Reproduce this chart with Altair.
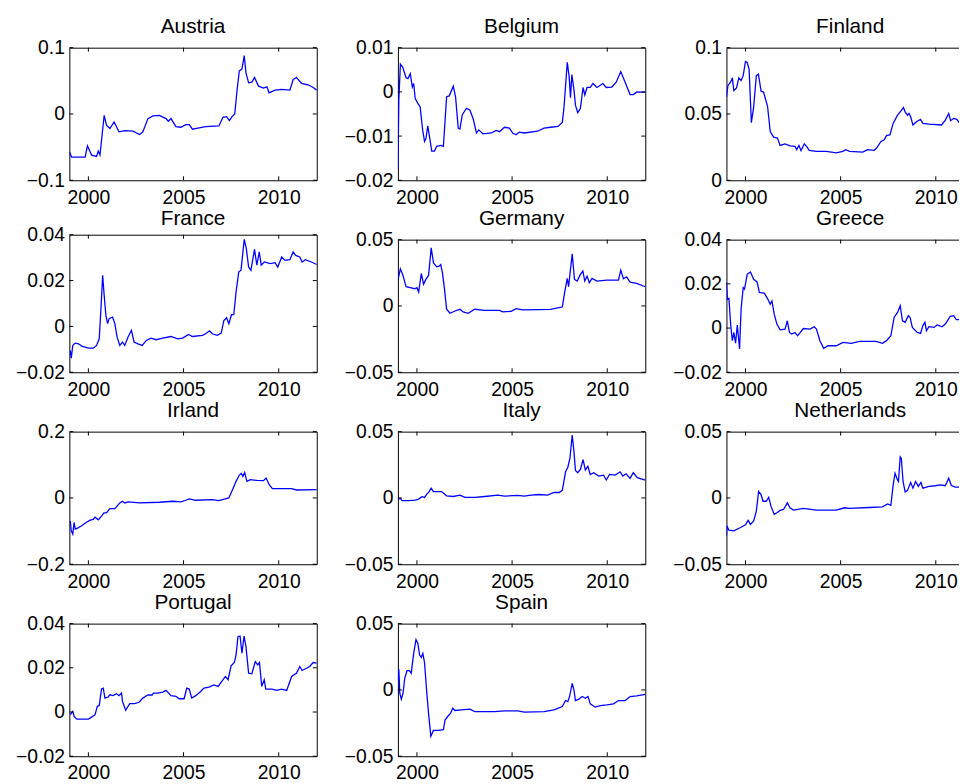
import altair as alt
import pandas as pd

FONT = "Liberation Sans"
BLUE = "#0000ff"
X_TICKS = [2000, 2005, 2010]

austria = [(1999.00,-0.057),(1999.12,-0.065),(1999.83,-0.065),(1999.95,-0.048),(2000.17,-0.062),(2000.43,-0.064),(2000.52,-0.056),(2000.61,-0.062),(2000.69,-0.040),(2000.83,-0.002),(2000.95,-0.017),(2001.13,-0.022),(2001.35,-0.012),(2001.61,-0.027),(2001.91,-0.025),(2002.34,-0.026),(2002.69,-0.031),(2002.86,-0.027),(2003.13,-0.007),(2003.39,-0.003),(2003.73,-0.002),(2004.08,-0.007),(2004.20,-0.011),(2004.34,-0.007),(2004.60,-0.019),(2004.86,-0.020),(2005.12,-0.016),(2005.30,-0.016),(2005.47,-0.023),(2005.82,-0.021),(2006.16,-0.019),(2006.86,-0.018),(2007.07,-0.005),(2007.26,-0.004),(2007.41,-0.010),(2007.55,-0.004),(2007.69,0.000),(2007.81,0.035),(2007.93,0.065),(2008.07,0.068),(2008.19,0.088),(2008.28,0.062),(2008.42,0.047),(2008.59,0.048),(2008.73,0.055),(2008.94,0.042),(2009.20,0.039),(2009.38,0.041),(2009.50,0.032),(2009.81,0.036),(2010.16,0.037),(2010.59,0.036),(2010.76,0.052),(2010.94,0.055),(2011.20,0.046),(2011.55,0.044),(2011.81,0.040),(2012.00,0.036)]

belgium = [(1999.00,-0.0175),(1999.05,-0.0019),(1999.13,0.0063),(1999.25,0.0056),(1999.43,0.0032),(1999.53,0.0030),(1999.65,0.0041),(1999.76,0.0011),(1999.83,0.0019),(1999.91,-0.0015),(2000.05,-0.0026),(2000.17,-0.0034),(2000.30,-0.0086),(2000.40,-0.0112),(2000.47,-0.0106),(2000.57,-0.0077),(2000.66,-0.0101),(2000.78,-0.0134),(2000.92,-0.0134),(2001.04,-0.0123),(2001.27,-0.0121),(2001.39,-0.0123),(2001.56,-0.0011),(2001.70,-0.0009),(2001.91,0.0013),(2002.03,-0.0011),(2002.17,-0.0082),(2002.26,-0.0084),(2002.38,-0.0052),(2002.60,-0.0037),(2002.78,-0.0041),(2002.95,-0.0060),(2003.13,-0.0093),(2003.25,-0.0086),(2003.47,-0.0095),(2003.91,-0.0093),(2004.17,-0.0087),(2004.34,-0.0090),(2004.60,-0.0080),(2004.86,-0.0082),(2005.03,-0.0093),(2005.21,-0.0097),(2005.38,-0.0091),(2005.64,-0.0093),(2006.34,-0.0089),(2006.68,-0.0082),(2007.03,-0.0080),(2007.41,-0.0078),(2007.64,-0.0069),(2007.73,-0.0034),(2007.90,0.0067),(2008.00,0.0034),(2008.07,-0.0013),(2008.14,0.0039),(2008.25,0.0005),(2008.33,-0.0030),(2008.45,-0.0047),(2008.59,-0.0037),(2008.73,0.0010),(2008.82,-0.0007),(2008.94,0.0010),(2009.11,0.0010),(2009.25,0.0019),(2009.46,0.0010),(2009.77,0.0019),(2009.95,0.0010),(2010.24,0.0011),(2010.47,0.0022),(2010.71,0.0046),(2010.94,0.0022),(2011.20,-0.0006),(2011.37,-0.0006),(2011.55,0.0000),(2012.00,-0.0001)]

finland = [(1999.00,0.0628),(1999.08,0.0715),(1999.22,0.0740),(1999.31,0.0772),(1999.39,0.0677),(1999.53,0.0697),(1999.65,0.0772),(1999.77,0.0752),(1999.88,0.0789),(2000.00,0.0896),(2000.09,0.0888),(2000.19,0.0839),(2000.31,0.0434),(2000.43,0.0553),(2000.57,0.0789),(2000.68,0.0801),(2000.82,0.0672),(2000.95,0.0665),(2001.16,0.0558),(2001.30,0.0367),(2001.48,0.0325),(2001.68,0.0318),(2001.82,0.0263),(2002.08,0.0275),(2002.34,0.0260),(2002.60,0.0256),(2002.69,0.0231),(2002.81,0.0263),(2002.92,0.0223),(2003.09,0.0275),(2003.21,0.0256),(2003.35,0.0226),(2003.73,0.0218),(2004.25,0.0218),(2004.77,0.0206),(2005.12,0.0218),(2005.26,0.0231),(2005.47,0.0218),(2006.16,0.0213),(2006.42,0.0231),(2006.77,0.0226),(2006.89,0.0243),(2007.12,0.0293),(2007.29,0.0305),(2007.41,0.0337),(2007.59,0.0342),(2007.76,0.0429),(2007.99,0.0491),(2008.16,0.0521),(2008.30,0.0548),(2008.39,0.0516),(2008.51,0.0491),(2008.59,0.0504),(2008.68,0.0479),(2008.80,0.0417),(2008.98,0.0442),(2009.20,0.0459),(2009.32,0.0429),(2009.64,0.0424),(2010.30,0.0417),(2010.50,0.0454),(2010.68,0.0504),(2010.78,0.0449),(2010.94,0.0467),(2011.11,0.0459),(2011.28,0.0424),(2011.60,0.0410),(2012.00,0.0400)]

france = [(1999.05,-0.0105),(1999.10,-0.0138),(1999.18,-0.0083),(1999.31,-0.0073),(1999.48,-0.0076),(1999.65,-0.0086),(1999.83,-0.0090),(2000.00,-0.0095),(2000.26,-0.0095),(2000.43,-0.0083),(2000.57,-0.0054),(2000.66,0.0077),(2000.75,0.0223),(2000.83,0.0135),(2000.92,0.0048),(2001.01,0.0012),(2001.09,0.0034),(2001.27,0.0041),(2001.39,0.0012),(2001.51,-0.0047),(2001.65,-0.0083),(2001.79,-0.0068),(2001.91,-0.0083),(2002.08,-0.0047),(2002.26,-0.0017),(2002.40,-0.0068),(2002.60,-0.0076),(2002.83,-0.0083),(2003.04,-0.0061),(2003.30,-0.0051),(2003.56,-0.0058),(2003.91,-0.0051),(2004.34,-0.0044),(2004.69,-0.0054),(2004.95,-0.0051),(2005.26,-0.0035),(2005.47,-0.0044),(2005.99,-0.0039),(2006.16,-0.0032),(2006.37,-0.0019),(2006.51,-0.0032),(2006.77,-0.0039),(2006.98,-0.0029),(2007.12,0.0026),(2007.26,0.0038),(2007.38,0.0012),(2007.52,0.0051),(2007.64,0.0051),(2007.76,0.0150),(2007.90,0.0237),(2008.02,0.0245),(2008.19,0.0380),(2008.30,0.0339),(2008.42,0.0259),(2008.54,0.0245),(2008.73,0.0336),(2008.85,0.0267),(2008.98,0.0325),(2009.08,0.0267),(2009.25,0.0281),(2009.55,0.0274),(2009.81,0.0278),(2009.95,0.0259),(2010.16,0.0303),(2010.33,0.0288),(2010.59,0.0291),(2010.76,0.0325),(2010.89,0.0310),(2011.11,0.0303),(2011.23,0.0281),(2011.40,0.0291),(2011.72,0.0281),(2012.00,0.0270)]

germany = [(1999.01,0.0200),(1999.13,0.0280),(1999.25,0.0238),(1999.43,0.0145),(1999.65,0.0138),(1999.88,0.0130),(2000.00,0.0138),(2000.09,0.0105),(2000.23,0.0245),(2000.35,0.0163),(2000.47,0.0200),(2000.61,0.0230),(2000.75,0.0438),(2000.87,0.0325),(2001.04,0.0295),(2001.16,0.0300),(2001.25,0.0313),(2001.34,0.0250),(2001.44,0.0138),(2001.56,-0.0025),(2001.74,-0.0055),(2002.00,-0.0038),(2002.26,-0.0025),(2002.43,-0.0045),(2002.69,-0.0055),(2003.04,-0.0025),(2003.56,-0.0033),(2004.34,-0.0033),(2004.51,-0.0045),(2004.95,-0.0040),(2005.21,-0.0020),(2005.56,-0.0030),(2007.03,-0.0025),(2007.38,-0.0015),(2007.64,-0.0008),(2007.76,0.0100),(2007.90,0.0208),(2007.97,0.0145),(2008.04,0.0238),(2008.16,0.0393),(2008.28,0.0200),(2008.42,0.0188),(2008.59,0.0238),(2008.72,0.0263),(2008.82,0.0188),(2008.94,0.0225),(2009.06,0.0175),(2009.20,0.0208),(2009.46,0.0188),(2009.98,0.0195),(2010.59,0.0195),(2010.71,0.0270),(2010.85,0.0205),(2011.02,0.0220),(2011.20,0.0180),(2011.55,0.0170),(2012.00,0.0145)]

greece = [(1999.00,0.0206),(1999.05,0.0130),(1999.13,0.0134),(1999.22,0.0018),(1999.31,-0.0057),(1999.39,-0.0020),(1999.48,-0.0068),(1999.57,0.0014),(1999.69,-0.0095),(1999.77,0.0086),(1999.88,0.0183),(1999.95,0.0176),(2000.09,0.0243),(2000.26,0.0254),(2000.43,0.0221),(2000.61,0.0209),(2000.73,0.0161),(2000.99,0.0158),(2001.18,0.0130),(2001.30,0.0108),(2001.39,0.0123),(2001.51,0.0063),(2001.65,0.0018),(2001.82,-0.0008),(2002.08,-0.0005),(2002.20,0.0033),(2002.31,-0.0020),(2002.43,-0.0027),(2002.60,-0.0020),(2002.74,-0.0035),(2003.04,-0.0002),(2003.39,-0.0005),(2003.61,0.0006),(2003.73,-0.0005),(2003.91,-0.0057),(2004.11,-0.0092),(2004.34,-0.0080),(2004.77,-0.0080),(2005.12,-0.0065),(2005.56,-0.0069),(2005.99,-0.0060),(2006.86,-0.0060),(2007.20,-0.0069),(2007.41,-0.0057),(2007.64,-0.0035),(2007.81,0.0048),(2007.99,0.0071),(2008.13,0.0101),(2008.25,0.0033),(2008.39,0.0026),(2008.56,0.0056),(2008.65,0.0048),(2008.77,0.0003),(2009.03,-0.0020),(2009.20,-0.0024),(2009.32,0.0011),(2009.43,0.0026),(2009.51,-0.0012),(2009.64,0.0006),(2009.90,0.0003),(2010.07,0.0014),(2010.33,0.0006),(2010.50,0.0018),(2010.76,0.0053),(2010.94,0.0056),(2011.08,0.0038),(2011.28,0.0038),(2011.39,0.0029),(2011.70,0.0030),(2012.00,0.0025)]

irland = [(1999.05,-0.0695),(1999.10,-0.0990),(1999.18,-0.1090),(1999.25,-0.0740),(1999.31,-0.0940),(1999.43,-0.0910),(1999.65,-0.0840),(1999.88,-0.0740),(2000.09,-0.0670),(2000.26,-0.0650),(2000.35,-0.0580),(2000.52,-0.0660),(2000.69,-0.0550),(2000.82,-0.0450),(2000.95,-0.0450),(2001.13,-0.0320),(2001.39,-0.0320),(2001.65,-0.0150),(2001.79,-0.0100),(2001.91,-0.0150),(2002.08,-0.0120),(2002.69,-0.0150),(2003.73,-0.0130),(2004.43,-0.0100),(2004.86,-0.0120),(2005.12,-0.0070),(2005.30,-0.0030),(2005.64,-0.0070),(2006.51,-0.0050),(2006.86,-0.0080),(2007.38,0.0000),(2007.55,0.0220),(2007.76,0.0500),(2007.93,0.0690),(2008.04,0.0740),(2008.12,0.0650),(2008.21,0.0770),(2008.33,0.0500),(2008.51,0.0550),(2008.85,0.0530),(2009.20,0.0520),(2009.34,0.0600),(2009.50,0.0400),(2009.67,0.0280),(2010.33,0.0280),(2010.68,0.0280),(2010.94,0.0240),(2012.00,0.0250)]

italy = [(1999.01,-0.0009),(1999.13,-0.0004),(1999.22,-0.0021),(1999.57,-0.0021),(1999.91,-0.0016),(2000.09,-0.0009),(2000.26,0.0009),(2000.40,0.0004),(2000.52,0.0029),(2000.64,0.0048),(2000.75,0.0073),(2000.87,0.0048),(2001.04,0.0048),(2001.30,0.0048),(2001.56,0.0016),(2001.91,0.0011),(2002.26,0.0021),(2002.52,0.0004),(2003.04,0.0004),(2003.56,0.0011),(2004.25,0.0021),(2004.60,0.0014),(2005.30,0.0019),(2005.64,0.0014),(2005.99,0.0021),(2006.42,0.0026),(2006.86,0.0021),(2007.20,0.0041),(2007.47,0.0041),(2007.64,0.0058),(2007.81,0.0197),(2007.93,0.0232),(2008.04,0.0301),(2008.16,0.0475),(2008.25,0.0351),(2008.33,0.0207),(2008.45,0.0190),(2008.59,0.0215),(2008.73,0.0289),(2008.85,0.0210),(2008.98,0.0239),(2009.11,0.0177),(2009.29,0.0190),(2009.55,0.0165),(2009.81,0.0172),(2009.95,0.0135),(2010.12,0.0177),(2010.42,0.0172),(2010.68,0.0197),(2010.82,0.0165),(2010.99,0.0182),(2011.20,0.0148),(2011.37,0.0190),(2011.58,0.0153),(2012.00,0.0135)]

netherlands = [(1999.00,-0.0285),(1999.03,-0.0211),(1999.13,-0.0243),(1999.39,-0.0248),(1999.74,-0.0223),(2000.00,-0.0203),(2000.14,-0.0169),(2000.26,-0.0199),(2000.43,-0.0174),(2000.57,-0.0099),(2000.69,0.0050),(2000.82,0.0025),(2000.92,-0.0025),(2001.09,-0.0025),(2001.22,0.0005),(2001.34,-0.0062),(2001.51,-0.0124),(2001.65,-0.0112),(2001.82,-0.0094),(2002.00,-0.0087),(2002.20,-0.0037),(2002.34,-0.0074),(2002.52,-0.0092),(2003.04,-0.0079),(2003.73,-0.0092),(2004.77,-0.0092),(2005.21,-0.0074),(2005.47,-0.0079),(2006.51,-0.0072),(2007.20,-0.0067),(2007.47,-0.0045),(2007.64,-0.0055),(2007.76,0.0099),(2007.86,0.0186),(2007.99,0.0136),(2008.04,0.0124),(2008.13,0.0310),(2008.19,0.0298),(2008.28,0.0124),(2008.39,0.0045),(2008.51,0.0055),(2008.68,0.0117),(2008.80,0.0074),(2008.94,0.0124),(2009.08,0.0087),(2009.22,0.0117),(2009.32,0.0074),(2009.64,0.0087),(2009.98,0.0092),(2010.24,0.0099),(2010.50,0.0092),(2010.68,0.0149),(2010.82,0.0094),(2011.02,0.0082),(2011.39,0.0082),(2012.00,0.0082)]

portugal = [(1999.05,-0.0012),(1999.18,0.0003),(1999.25,-0.0020),(1999.39,-0.0032),(1999.74,-0.0032),(2000.00,-0.0032),(2000.17,-0.0023),(2000.35,-0.0012),(2000.47,0.0026),(2000.57,0.0029),(2000.69,0.0104),(2000.78,0.0108),(2000.87,0.0063),(2001.04,0.0068),(2001.13,0.0078),(2001.30,0.0074),(2001.48,0.0083),(2001.61,0.0074),(2001.74,0.0086),(2001.79,0.0048),(2001.96,0.0008),(2002.17,0.0038),(2002.43,0.0038),(2002.66,0.0044),(2002.86,0.0063),(2003.13,0.0078),(2003.35,0.0077),(2003.42,0.0086),(2003.65,0.0086),(2003.91,0.0090),(2004.08,0.0098),(2004.34,0.0074),(2004.60,0.0071),(2004.77,0.0060),(2005.03,0.0060),(2005.17,0.0108),(2005.30,0.0104),(2005.43,0.0063),(2005.64,0.0074),(2005.90,0.0093),(2006.07,0.0108),(2006.34,0.0113),(2006.60,0.0123),(2006.82,0.0116),(2007.00,0.0138),(2007.20,0.0161),(2007.34,0.0146),(2007.50,0.0209),(2007.67,0.0224),(2007.76,0.0258),(2007.86,0.0341),(2007.97,0.0344),(2008.07,0.0266),(2008.18,0.0344),(2008.28,0.0296),(2008.42,0.0176),(2008.59,0.0173),(2008.77,0.0228),(2008.90,0.0213),(2008.99,0.0224),(2009.11,0.0116),(2009.24,0.0146),(2009.32,0.0104),(2009.64,0.0104),(2009.90,0.0098),(2010.16,0.0104),(2010.42,0.0098),(2010.68,0.0161),(2010.94,0.0176),(2011.11,0.0206),(2011.23,0.0188),(2011.46,0.0198),(2011.63,0.0206),(2011.81,0.0224),(2012.00,0.0221)]

spain = [(1999.00,0.0075),(1999.05,0.0155),(1999.10,-0.0025),(1999.18,-0.0070),(1999.27,-0.0025),(1999.36,0.0088),(1999.48,0.0145),(1999.60,0.0145),(1999.70,0.0125),(1999.83,0.0275),(1999.95,0.0380),(2000.05,0.0350),(2000.14,0.0263),(2000.23,0.0245),(2000.31,0.0275),(2000.40,0.0205),(2000.52,-0.0025),(2000.61,-0.0175),(2000.73,-0.0350),(2000.87,-0.0305),(2001.13,-0.0305),(2001.39,-0.0300),(2001.48,-0.0225),(2001.65,-0.0195),(2001.77,-0.0175),(2001.88,-0.0138),(2002.00,-0.0155),(2002.34,-0.0150),(2002.78,-0.0145),(2003.04,-0.0163),(2004.08,-0.0163),(2004.60,-0.0158),(2005.30,-0.0158),(2005.64,-0.0168),(2006.68,-0.0163),(2007.20,-0.0150),(2007.64,-0.0125),(2007.81,-0.0080),(2007.93,-0.0088),(2008.02,-0.0050),(2008.16,0.0050),(2008.25,0.0000),(2008.33,-0.0080),(2008.51,-0.0070),(2008.68,-0.0050),(2008.85,-0.0063),(2008.99,-0.0050),(2009.11,-0.0105),(2009.37,-0.0130),(2009.64,-0.0118),(2009.98,-0.0113),(2010.33,-0.0105),(2010.59,-0.0080),(2010.94,-0.0080),(2011.20,-0.0050),(2011.55,-0.0045),(2012.00,-0.0033)]

# (name, data, y-domain, y tick values)
COLUMNS = [
    [("Austria", austria, [-0.1, 0.1], [-0.1, 0, 0.1]),
     ("France", france, [-0.02, 0.04], [-0.02, 0, 0.02, 0.04]),
     ("Irland", irland, [-0.2, 0.2], [-0.2, 0, 0.2]),
     ("Portugal", portugal, [-0.02, 0.04], [-0.02, 0, 0.02, 0.04])],
    [("Belgium", belgium, [-0.02, 0.01], [-0.02, -0.01, 0, 0.01]),
     ("Germany", germany, [-0.05, 0.05], [-0.05, 0, 0.05]),
     ("Italy", italy, [-0.05, 0.05], [-0.05, 0, 0.05]),
     ("Spain", spain, [-0.05, 0.05], [-0.05, 0, 0.05])],
    [("Finland", finland, [0, 0.1], [0, 0.05, 0.1]),
     ("Greece", greece, [-0.02, 0.04], [-0.02, 0, 0.02, 0.04]),
     ("Netherlands", netherlands, [-0.05, 0.05], [-0.05, 0, 0.05])],
]

W = 250
TL = 4


def panel(name, pts, dom, ticks, h=134, toff=1):
    df = pd.DataFrame(pts, columns=["year", "value"])
    xs = alt.Scale(domain=[1999, 2012], nice=False, zero=False)
    ys = alt.Scale(domain=dom, nice=False, zero=False)
    xa = alt.Axis(values=X_TICKS, format="d", title=None)
    ya = alt.Axis(values=ticks, format="~g", title=None)
    line = alt.Chart(df).mark_line(color=BLUE, strokeWidth=1.3, clip=True).encode(
        x=alt.X("year:Q", scale=xs, axis=xa),
        y=alt.Y("value:Q", scale=ys, axis=ya),
    )
    xt = pd.DataFrame({"year": X_TICKS})
    yt = pd.DataFrame({"value": ticks})
    xb = alt.Chart(xt).mark_rule(color="black", strokeWidth=1).encode(
        x=alt.X("year:Q", scale=xs, axis=xa), y=alt.value(h), y2=alt.value(h - TL))
    xtp = alt.Chart(xt).mark_rule(color="black", strokeWidth=1).encode(
        x=alt.X("year:Q", scale=xs, axis=xa), y=alt.value(0), y2=alt.value(TL))
    yl = alt.Chart(yt).mark_rule(color="black", strokeWidth=1).encode(
        y=alt.Y("value:Q", scale=ys, axis=ya), x=alt.value(0), x2=alt.value(TL))
    yr = alt.Chart(yt).mark_rule(color="black", strokeWidth=1).encode(
        y=alt.Y("value:Q", scale=ys, axis=ya), x=alt.value(W - TL), x2=alt.value(W))
    return alt.layer(line, xb, xtp, yl, yr).properties(
        width=W, height=h,
        title=alt.TitleParams(text=name, offset=toff),
    )


cols = []
for col in COLUMNS:
    panels = []
    for name, pts, dom, ticks in col:
        if name == "France":
            panels.append(panel(name, pts, dom, ticks, h=139, toff=-4))
        else:
            panels.append(panel(name, pts, dom, ticks))
    cols.append(alt.vconcat(*panels, spacing=0))

# the right edge of the third column lies outside the window, as in the reference
chart = alt.hconcat(*cols, spacing=19).properties(
    padding={"top": 3, "left": 0, "right": -16, "bottom": 0},
    background="white",
).configure_view(
    stroke="black", strokeWidth=1
).configure_axis(
    grid=False, domain=False, ticks=False, labelFont=FONT, labelFontSize=19.5,
    labelColor="black", labelOverlap=False,
).configure_axisX(
    labelPadding=8, minExtent=18.5, maxExtent=18.5,
).configure_axisY(
    labelPadding=5, minExtent=61, maxExtent=61,
).configure_title(
    font=FONT, fontSize=21, fontWeight="normal", color="black",
    frame="group", anchor="middle",
)

chart.save("out.html", embed_options={"renderer": "svg", "actions": False})
